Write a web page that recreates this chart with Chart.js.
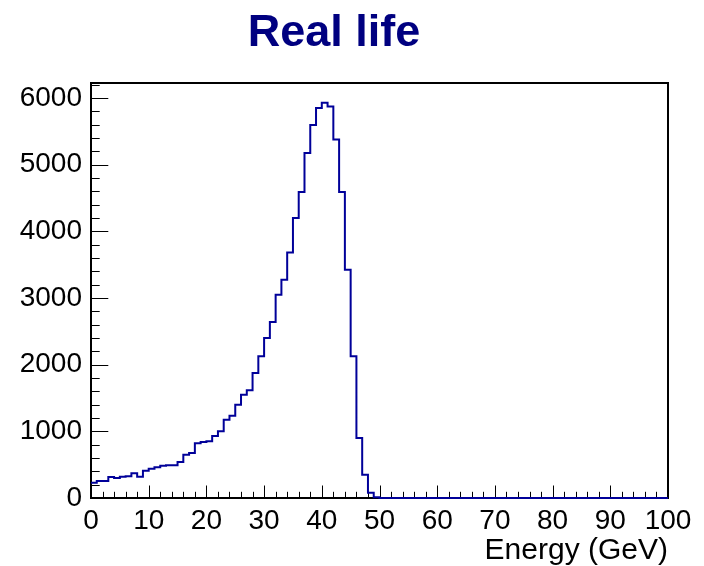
<!DOCTYPE html>
<html>
<head>
<meta charset="utf-8">
<script src="https://cdn.jsdelivr.net/npm/chart.js@4/dist/chart.umd.min.js"></script>
<style>
  html, body { margin: 0; padding: 0; background: #fff; }
  #wrap { width: 704px; height: 566px; }
</style>
</head>
<body>
<div id="wrap"><canvas id="hist" width="704" height="566"></canvas></div>
<script>
// 100 bins of 1 GeV between 0 and 100 GeV
const binLow = 0;
const binHigh = 100;
const counts = [
  230, 255, 255, 315, 300, 320, 325, 370, 320, 410,
  440, 460, 485, 490, 490, 540, 650, 675, 820, 840,
  850, 930, 1000, 1175, 1235, 1400, 1550, 1615, 1875, 2125,
  2400, 2640, 3050, 3275, 3685, 4200, 4590, 5175, 5595, 5850,
  5930, 5875, 5380, 4590, 3425, 2125, 900, 350, 80, 10,
  0, 0, 0, 0, 0, 0, 0, 0, 0, 0,
  0, 0, 0, 0, 0, 0, 0, 0, 0, 0,
  0, 0, 0, 0, 0, 0, 0, 0, 0, 0,
  0, 0, 0, 0, 0, 0, 0, 0, 0, 0,
  0, 0, 0, 0, 0, 0, 0, 0, 0, 0
];
const xTicks = [0, 10, 20, 30, 40, 50, 60, 70, 80, 90, 100];
const yTicks = [0, 1000, 2000, 3000, 4000, 5000, 6000];

const binWidth = (binHigh - binLow) / counts.length;
// step outline: one point per bin low edge, closed at the upper edge of the last bin.
// Chart.js 'before' stepping goes horizontal first, so each bin's count spans its own width.
const outline = counts.map((c, i) => ({ x: binLow + i * binWidth, y: c }));
outline.push({ x: binHigh, y: counts[counts.length - 1] });

const yMax = Math.max(...counts) * 1.05;

// ROOT-like frame: ticks pointing into the pad, title above
const rootFrame = {
  id: 'rootFrame',
  beforeDatasetsDraw(chart) {
    const { ctx, chartArea: a, scales: { x, y } } = chart;
    ctx.save();
    ctx.strokeStyle = '#000';
    ctx.lineWidth = 1;
    ctx.beginPath();
    for (let v = binLow; v <= binHigh; v += 2) {
      const px = Math.round(x.getPixelForValue(v)) + 0.5;
      const len = v % 10 === 0 ? 12.5 : 6.2;
      ctx.moveTo(px, a.bottom);
      ctx.lineTo(px, a.bottom - len);
    }
    for (let v = 0; v <= y.max; v += 200) {
      const py = Math.round(y.getPixelForValue(v)) + 0.5;
      const len = v % 1000 === 0 ? 17.3 : 8.7;
      ctx.moveTo(a.left, py);
      ctx.lineTo(a.left + len, py);
    }
    ctx.stroke();
    ctx.lineWidth = 2;
    ctx.strokeRect(a.left, a.top, a.right - a.left, a.bottom - a.top);
    ctx.restore();
  },
  afterDraw(chart) {
    const { ctx } = chart;
    ctx.save();
    ctx.font = 'bold 45px "Liberation Sans", Arial, sans-serif';
    ctx.fillStyle = '#000080';
    ctx.textAlign = 'center';
    ctx.textBaseline = 'alphabetic';
    ctx.fillText('Real life', 334, 46);
    ctx.restore();
  }
};

const labelFont = { family: '"Liberation Sans", Arial, sans-serif', size: 28 };

new Chart(document.getElementById('hist'), {
  type: 'line',
  data: {
    datasets: [{
      data: outline,
      stepped: 'before',
      borderColor: '#000099',
      borderWidth: 2,
      pointRadius: 0,
      fill: false,
      clip: false
    }]
  },
  options: {
    responsive: false,
    animation: false,
    layout: { padding: { top: 83, right: 36, left: 0, bottom: 0 } },
    plugins: { legend: { display: false }, tooltip: { enabled: false } },
    scales: {
      x: {
        type: 'linear',
        min: binLow,
        max: binHigh,
        grid: { display: false, drawTicks: false },
        border: { display: false },
        afterBuildTicks: s => { s.ticks = xTicks.map(v => ({ value: v })); },
        afterFit: s => { s.height = 68; },
        ticks: { color: '#000', font: labelFont, padding: 6, maxRotation: 0, autoSkip: false, callback: v => String(v) },
        title: {
          display: true,
          text: 'Energy (GeV)',
          align: 'end',
          color: '#000',
          font: { family: labelFont.family, size: 30, lineHeight: 1 },
          padding: { top: 0, bottom: 0 }
        }
      },
      y: {
        min: 0,
        max: yMax,
        grid: { display: false, drawTicks: false },
        border: { display: false },
        afterBuildTicks: s => { s.ticks = yTicks.map(v => ({ value: v })); },
        afterFit: s => { s.width = 91; },
        ticks: { color: '#000', font: labelFont, padding: 9, callback: v => String(v) }
      }
    }
  },
  plugins: [rootFrame]
});
</script>
</body>
</html>
